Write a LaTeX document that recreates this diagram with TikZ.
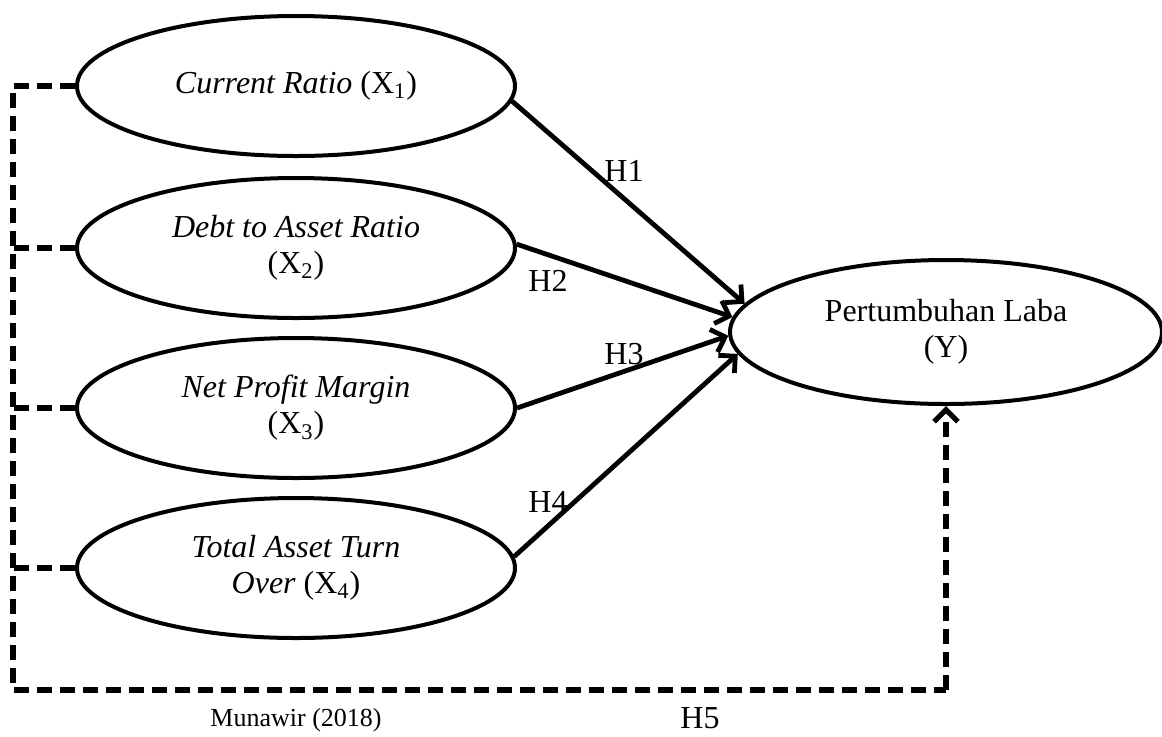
\documentclass[tikz,border=0pt]{standalone}
\usepackage{fontspec}
\setmainfont{Liberation Serif}
\usetikzlibrary{shapes.geometric,arrows.meta}
\begin{document}
\begin{tikzpicture}[x=0.5pt,y=-0.5pt,
  var/.style={ellipse,draw,line width=2pt,minimum width=219pt,minimum height=70pt,
    inner sep=0pt,align=center,font=\fontsize{16}{18}\selectfont},
  hyp/.style={line width=2.4pt,-{Straight Barb[length=6pt,width=12pt]}},
  dsh/.style={line width=2.6pt,dash pattern=on 7.5pt off 4pt},
  lbl/.style={font=\fontsize{16}{18}\selectfont,inner sep=0pt},
  src/.style={font=\fontsize{13}{15}\selectfont,inner sep=0pt}]
\useasboundingbox (0,0) rectangle (1162,736);
% variables
\node[var] (x1) at (296,86) {{\itshape Current Ratio} (X\textsubscript{1})};
\node[var] (x2) at (296,248) {{\itshape Debt to Asset Ratio}\\(X\textsubscript{2})};
\node[var] (x3) at (296,408) {{\itshape Net Profit Margin}\\(X\textsubscript{3})};
\node[var] (x4) at (296,568) {{\itshape Total Asset Turn}\\{\itshape Over} (X\textsubscript{4})};
\node[var,minimum width=216pt,minimum height=72pt] (y) at (946,332) {Pertumbuhan Laba\\(Y)};
% hypotheses
\draw[hyp] (x1.-4) -- (y.172);
\draw[hyp] (x2.1) -- (y.176);
\draw[hyp] (x3.0) -- (y.181.5);
\draw[hyp] (x4.3) -- (y.186.5);
% simultaneous (H5)
\coordinate (cb) at (13,690);
\coordinate (cr) at (946,690);
\draw[dsh] (x1.west) -| (cb) -- (cr);
\draw[dsh,-{Straight Barb[length=6pt,width=12pt]}] (cr) -- (y.south);
\draw[dsh] (x2.west) -- (x2.west -| cb);
\draw[dsh] (x3.west) -- (x3.west -| cb);
\draw[dsh] (x4.west) -- (x4.west -| cb);
% labels
\node[lbl] (h1) at (624,171) {H1};
\node[lbl] (h2) at (548,281) {H2};
\node[lbl] (h3) at (624,354) {H3};
\node[lbl] (h4) at (548,502) {H4};
\node[lbl] (h5) at (700,718) {H5};
\node[src] (s) at (296,720) {Munawir (2018)};
\end{tikzpicture}
\end{document}
